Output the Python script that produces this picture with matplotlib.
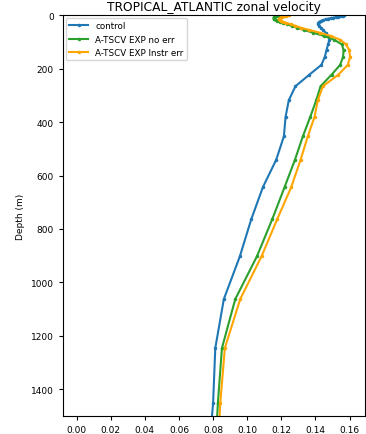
import matplotlib
matplotlib.use("Agg")
import matplotlib.pyplot as plt

# model depth levels (m)
depth = [0.5, 1.5, 2.6, 3.8, 5.1, 6.4, 7.9, 9.6, 11.4, 13.5, 15.8, 18.5,
         21.6, 25.2, 29.4, 34.4, 40.3, 47.4, 55.8, 65.8, 77.9, 92.3, 109.7,
         130.7, 155.9, 186.1, 222.5, 266.0, 318.1, 380.2, 453.9, 541.1,
         643.6, 763.3, 902.3, 1062.4, 1245.3, 1452.3, 1673.0]

control = [0.157, 0.1566, 0.156, 0.155, 0.154, 0.153, 0.152, 0.1505, 0.149,
           0.1475, 0.146, 0.1445, 0.1432, 0.1422, 0.1417, 0.1417, 0.1422,
           0.143, 0.1445, 0.146, 0.1475, 0.1482, 0.1474, 0.1465, 0.1455,
           0.1435, 0.1365, 0.1283, 0.1244, 0.1225, 0.1215, 0.117, 0.1092,
           0.1024, 0.0957, 0.0863, 0.0813, 0.080, 0.077]

exp_no_err = [0.1185, 0.118, 0.1175, 0.117, 0.1165, 0.116, 0.1157, 0.1155,
              0.1155, 0.1157, 0.116, 0.1167, 0.1177, 0.119, 0.121, 0.1235,
              0.126, 0.129, 0.1335, 0.1385, 0.145, 0.151, 0.1555, 0.1565,
              0.1562, 0.1545, 0.1495, 0.143, 0.1405, 0.137, 0.1326, 0.128,
              0.1219, 0.1147, 0.1057, 0.093, 0.0852, 0.0828, 0.081]

exp_instr_err = [0.1248, 0.1238, 0.1228, 0.122, 0.1212, 0.1205, 0.1199,
                 0.1194, 0.119, 0.1188, 0.1188, 0.119, 0.1197, 0.121, 0.123,
                 0.1255, 0.1283, 0.1315, 0.1365, 0.1425, 0.149, 0.1545,
                 0.158, 0.1598, 0.1603, 0.159, 0.1535, 0.1444, 0.1414,
                 0.1395, 0.1355, 0.1313, 0.1258, 0.1176, 0.1084, 0.0959,
                 0.0869, 0.0842, 0.0825]

fig = plt.figure(figsize=(3.66, 4.35), dpi=100)
ax = fig.add_axes([0.172, 0.041, 0.825, 0.922])

ax.plot(control, depth, color="tab:blue", marker=".", markersize=3,
        linewidth=1.5, label="control")
ax.plot(exp_no_err, depth, color="tab:green", marker=".", markersize=3,
        linewidth=1.5, label="A-TSCV EXP no err")
ax.plot(exp_instr_err, depth, color="orange", marker=".", markersize=3,
        linewidth=1.5, label="A-TSCV EXP Instr err")

ax.set_ylim(1500, 0)
ax.set_xlim(-0.008, 0.169)
ax.set_xticks([0.00, 0.02, 0.04, 0.06, 0.08, 0.10, 0.12, 0.14, 0.16])
ax.set_yticks(range(0, 1401, 200))
ax.tick_params(labelsize=6.5, length=3)

ax.set_ylabel("Depth (m)", fontsize=6.5)
ax.set_title("TROPICAL_ATLANTIC zonal velocity", fontsize=8.8, pad=4)
ax.legend(loc="upper left", fontsize=6.3, handlelength=2.2,
          borderaxespad=0.3)

fig.savefig("out.png", dpi=100)
